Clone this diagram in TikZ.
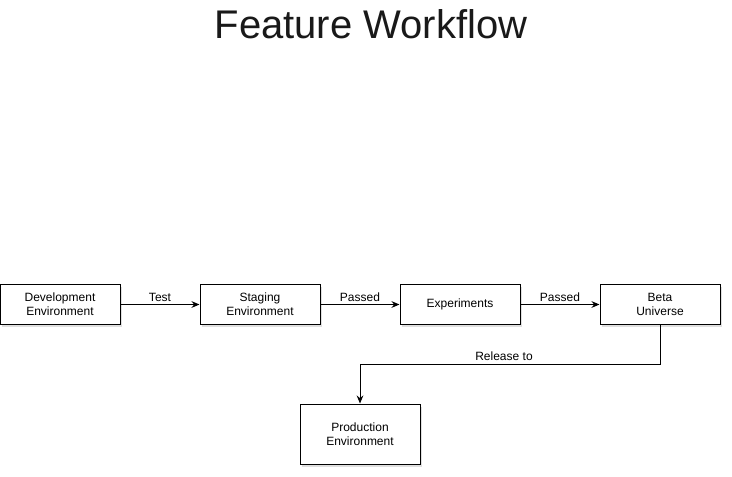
\documentclass[tikz,border=0pt]{standalone}
\usepackage{fontspec}
\setmainfont{Liberation Sans}
\usetikzlibrary{arrows.meta,shadows}
\begin{document}
\begin{tikzpicture}[x=0.75pt, y=-0.75pt,
  envbox/.style={draw, line width=0.75pt, fill=white, align=center,
    minimum width=90pt, minimum height=30pt, inner sep=0pt,
    font=\fontsize{9pt}{10.5pt}\selectfont,
    drop shadow={shadow xshift=1.5pt, shadow yshift=-2pt, opacity=0.25, fill=gray}},
  flow/.style={line width=0.75pt, -{Stealth[length=6pt, width=5pt]}},
  flowlabel/.style={font=\fontsize{9pt}{10.5pt}\selectfont, inner sep=2pt}]
  \useasboundingbox (0,0) rectangle (732,476);
  \node[font=\fontsize{30pt}{35pt}\selectfont, text=black!90] (title) at (371,24) {Feature Workflow};
  \node[envbox] (dev) at (60,304.5) {Development\\Environment};
  \node[envbox] (stage) at (260,304.5) {Staging\\Environment};
  \node[envbox] (exp) at (460,304.5) {Experiments};
  \node[envbox] (beta) at (660,304.5) {Beta\\Universe};
  \node[envbox, minimum height=45pt] (prod) at (360,434) {Production\\Environment};
  \coordinate (turn) at (660,364);
  \draw[flow] (dev) -- node[flowlabel, above] {Test} (stage);
  \draw[flow] (stage) -- node[flowlabel, above] {Passed} (exp);
  \draw[flow] (exp) -- node[flowlabel, above] {Passed} (beta);
  \draw[flow] (beta.south) -- (turn) -| node[flowlabel, above, pos=0.26] {Release to} (prod.north);
\end{tikzpicture}
\end{document}
